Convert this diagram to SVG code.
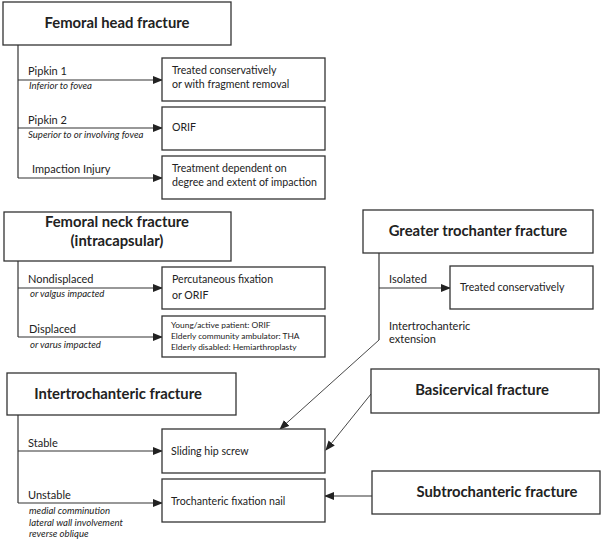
<svg xmlns="http://www.w3.org/2000/svg" width="603" height="542" viewBox="0 0 603 542">
<defs>
<marker id="ah" markerWidth="10" markerHeight="8" refX="9" refY="4" orient="auto" markerUnits="userSpaceOnUse">
<path d="M0,0 L10,4 L0,8 Z" fill="#222"/>
</marker>
<style>
.box{fill:#fff;stroke:#333;stroke-width:1.3}
.ln{fill:none;stroke:#333;stroke-width:1.2}
.ar{fill:none;stroke:#333;stroke-width:1.2;marker-end:url(#ah)}
.dg{fill:none;stroke:#333;stroke-width:0.9;marker-end:url(#ah)}
text{font-family:Lato,"Open Sans","Liberation Sans",sans-serif;fill:#222}
.t{font-size:14.8px;font-weight:bold;text-anchor:middle}
.b{font-size:10.6px}
.l{font-size:11px}
.i{font-size:9.6px;font-style:italic}
.s{font-size:8.4px}
</style>
</defs>
<rect width="603" height="542" fill="#fff"/>
<g id="connectors">
<path class="ln" d="M18,45 V178"/>
<path class="ar" d="M18,80 H162"/>
<path class="ar" d="M18,128 H162"/>
<path class="ar" d="M18,178 H162"/>
<path class="ln" d="M18,261 V337"/>
<path class="ar" d="M18,288 H162"/>
<path class="ar" d="M18,337 H162"/>
<path class="ln" d="M379,253 V340"/>
<path class="ar" d="M379,288 H450"/>
<path class="dg" d="M379,340 L280,429"/>
<path class="dg" d="M371,394 L326,450"/>
<path class="ln" d="M18,415 V503"/>
<path class="ar" d="M18,451 H162"/>
<path class="ar" d="M18,503 H162"/>
<path class="ar" d="M372,496 H325"/>
</g>
<g id="femoral-head">
<rect class="box" x="3" y="2" width="228" height="43"/>
<text class="t" x="117" y="28">Femoral head fracture</text>
</g>
<g id="pipkin1-label">
<text class="l" x="28" y="75">Pipkin 1</text>
<text class="i" x="29" y="89">Inferior to fovea</text>
</g>
<g id="pipkin2-label">
<text class="l" x="28" y="124">Pipkin 2</text>
<text class="i" x="28" y="138">Superior to or involving fovea</text>
</g>
<g id="impaction-label">
<text class="l" x="32" y="173">Impaction Injury</text>
</g>
<g id="treated-fragment">
<rect class="box" x="162" y="58" width="163" height="43"/>
<text class="b" x="172" y="74">Treated conservatively</text>
<text class="b" x="172" y="88">or with fragment removal</text>
</g>
<g id="orif-1">
<rect class="box" x="162" y="107" width="163" height="43"/>
<text class="b" x="172" y="131">ORIF</text>
</g>
<g id="treatment-impaction">
<rect class="box" x="162" y="156" width="163" height="43"/>
<text class="b" x="172" y="172">Treatment dependent on</text>
<text class="b" x="172" y="186">degree and extent of impaction</text>
</g>
<g id="femoral-neck">
<rect class="box" x="4" y="212" width="227" height="49"/>
<text class="t" x="117" y="227">Femoral neck fracture</text>
<text class="t" x="117" y="246">(intracapsular)</text>
</g>
<g id="neck-labels">
<text class="l" x="28" y="283">Nondisplaced</text>
<text class="i" x="30" y="297">or valgus impacted</text>
<text class="l" x="29" y="333">Displaced</text>
<text class="i" x="30" y="348">or varus impacted</text>
</g>
<g id="percutaneous">
<rect class="box" x="162" y="267" width="163" height="42"/>
<text class="b" x="172" y="283">Percutaneous fixation</text>
<text class="b" x="172" y="299">or ORIF</text>
</g>
<g id="displaced-treatment">
<rect class="box" x="162" y="316" width="163" height="41"/>
<text class="s" x="171" y="328">Young/active patient: ORIF</text>
<text class="s" x="171" y="339">Elderly community ambulator: THA</text>
<text class="s" x="171" y="350">Elderly disabled: Hemiarthroplasty</text>
</g>
<g id="greater-trochanter">
<rect class="box" x="363" y="210" width="230" height="43"/>
<text class="t" x="478" y="236">Greater trochanter fracture</text>
</g>
<g id="gt-labels">
<text class="l" x="389" y="283">Isolated</text>
<text class="l" x="389" y="330">Intertrochanteric</text>
<text class="l" x="389" y="343">extension</text>
</g>
<g id="treated-conservatively">
<rect class="box" x="450" y="266" width="143" height="43"/>
<text class="b" x="460" y="291">Treated conservatively</text>
</g>
<g id="intertrochanteric">
<rect class="box" x="7" y="373" width="229" height="42"/>
<text class="t" x="118" y="399">Intertrochanteric fracture</text>
</g>
<g id="it-labels">
<text class="l" x="28" y="447">Stable</text>
<text class="l" x="28" y="499">Unstable</text>
<text class="i" x="29" y="514">medial comminution</text>
<text class="i" x="29" y="526">lateral wall involvement</text>
<text class="i" x="29" y="537">reverse oblique</text>
</g>
<g id="sliding-hip-screw">
<rect class="box" x="162" y="429" width="163" height="44"/>
<text class="b" x="171" y="455">Sliding hip screw</text>
</g>
<g id="trochanteric-nail">
<rect class="box" x="162" y="479" width="163" height="43"/>
<text class="b" x="171" y="505">Trochanteric fixation nail</text>
</g>
<g id="basicervical">
<rect class="box" x="371" y="369" width="228" height="44"/>
<text class="t" x="482" y="395">Basicervical fracture</text>
</g>
<g id="subtrochanteric">
<rect class="box" x="372" y="471" width="228" height="43"/>
<text class="t" x="497" y="497">Subtrochanteric fracture</text>
</g>
</svg>
